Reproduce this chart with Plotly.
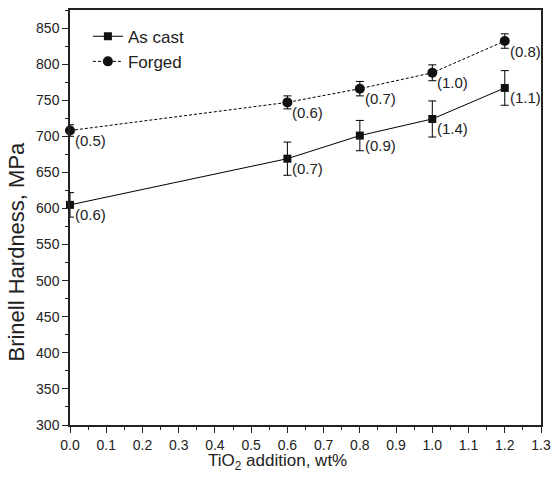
import plotly.graph_objects as go

x_vals = [0.0, 0.6, 0.8, 1.0, 1.2]
as_cast = [605, 669, 701, 724, 767]
as_cast_err = [17, 23, 21, 25, 24]
as_cast_labels = ["(0.6)", "(0.7)", "(0.9)", "(1.4)", "(1.1)"]
forged = [708, 747, 766, 788, 832]
forged_err = [8, 9, 10, 11, 10]
forged_labels = ["(0.5)", "(0.6)", "(0.7)", "(1.0)", "(0.8)"]

x_title = "TiO<sub>2</sub> addition, wt%"
y_title = "Brinell Hardness, MPa"

FONT = "Liberation Sans, Arial, sans-serif"

fig = go.Figure()
fig.add_trace(go.Scatter(
    x=x_vals, y=as_cast, name="As cast", mode="lines+markers",
    line=dict(color="black", width=1),
    marker=dict(symbol="square", size=8, color="#111"),
    error_y=dict(type="data", array=as_cast_err, color="black", thickness=1, width=4),
    cliponaxis=False,
))
fig.add_trace(go.Scatter(
    x=x_vals, y=forged, name="Forged", mode="lines+markers",
    line=dict(color="black", width=1, dash="3px,2px"),
    marker=dict(symbol="circle", size=10, color="#111"),
    error_y=dict(type="data", array=forged_err, color="black", thickness=1, width=4),
    cliponaxis=False,
))

for xs, ys, labs in [(x_vals, as_cast, as_cast_labels), (x_vals, forged, forged_labels)]:
    for xv, yv, lab in zip(xs, ys, labs):
        fig.add_annotation(x=xv, y=yv, text=lab, showarrow=False,
                           xanchor="left", yanchor="middle", xshift=3, yshift=-10,
                           font=dict(family=FONT, size=15, color="#222"))

# axis titles (placed as in the reference, off-centre)
fig.add_annotation(xref="paper", yref="paper", x=0.4395, y=0, yshift=-37,
                   xanchor="center", yanchor="middle", showarrow=False,
                   text=x_title, font=dict(family=FONT, size=17, color="#222"))
fig.add_annotation(xref="paper", yref="paper", x=-0.1125, y=0.418,
                   xanchor="center", yanchor="middle", showarrow=False, textangle=-90,
                   text=y_title, font=dict(family=FONT, size=22, color="#222"))

fig.update_layout(
    width=552, height=479,
    margin=dict(l=70, r=11, t=10, b=54),
    paper_bgcolor="white", plot_bgcolor="white",
    font=dict(family=FONT, color="#222"),
    showlegend=True,
    legend=dict(x=0.038, y=0.979, xanchor="left", yanchor="top",
                font=dict(family=FONT, size=17, color="#222"),
                bgcolor="rgba(0,0,0,0)", tracegroupgap=0),
    xaxis=dict(range=[0, 1.3], dtick=0.1, tickformat=".1f", automargin=False,
               showgrid=False, zeroline=False,
               showline=True, linecolor="#222", linewidth=1.5, mirror=True,
               ticks="outside", ticklen=6, tickwidth=1, tickcolor="#222",
               minor=dict(ticks="outside", ticklen=3, dtick=0.05, tickcolor="#222"),
               tickfont=dict(family=FONT, size=14, color="#222")),
    yaxis=dict(range=[300, 875], dtick=50, automargin=False,
               showgrid=False, zeroline=False,
               showline=True, linecolor="#222", linewidth=1.5, mirror=True,
               ticks="outside", ticklen=6, tickwidth=1, tickcolor="#222",
               minor=dict(ticks="outside", ticklen=3, dtick=25, tickcolor="#222"),
               tickfont=dict(family=FONT, size=14, color="#222")),
)

fig.write_html("out.html", config={"displayModeBar": False},
               post_script="document.body.style.margin='0';document.body.style.overflow='hidden';")
